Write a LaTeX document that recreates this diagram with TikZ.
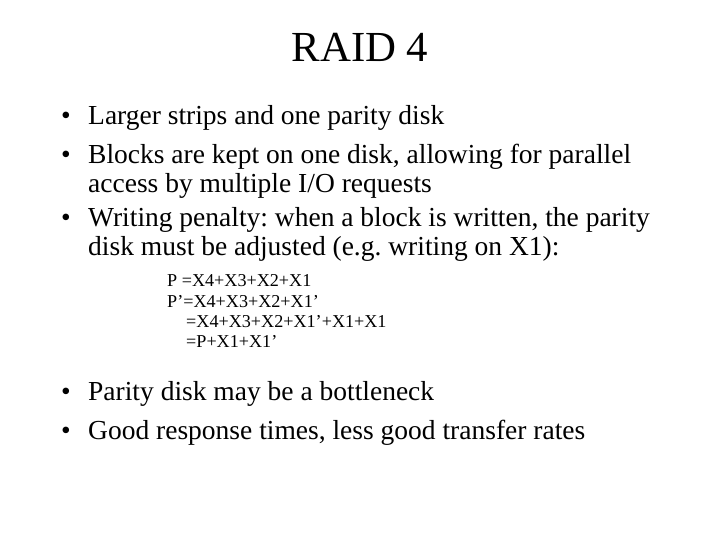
\documentclass[tikz,border=0pt]{standalone}
\usepackage{fontspec}
\setmainfont{Liberation Serif}
\frenchspacing
\begin{document}
\begin{tikzpicture}[x=1bp,y=-1bp,
  big/.style={anchor=base west,inner sep=0pt,font=\fontsize{27.6}{27.6}\selectfont},
  small/.style={anchor=base west,inner sep=0pt,font=\fontsize{18.2}{18.2}\selectfont},
  bul/.style={anchor=base west,inner sep=0pt,font=\fontsize{27.6}{27.6}\selectfont}]
\useasboundingbox[fill=white] (0,0) rectangle (720,540);
\node[inner sep=0pt,font=\fontsize{43}{43}\selectfont,anchor=base] (title) at (360,62) {RAID 4};
\node[bul] (b1) at (61,125) {•};
\node[big] (t1) at (88,125) {Larger strips and one parity disk};
\node[bul] (b2) at (61,164) {•};
\node[big] (t2) at (88,164) {Blocks are kept on one disk, allowing for parallel};
\node[big] (t3) at (88,193) {access by multiple I/O requests};
\node[bul] (b3) at (61,227) {•};
\node[big] (t4) at (88,227) {Writing penalty: when a block is written, the parity};
\node[big] (t5) at (88,256) {disk must be adjusted (e.g. writing on X1):};
\node[small] (s1) at (167,287) {P =X4+X3+X2+X1};
\node[small] (s2) at (167,307) {P’=X4+X3+X2+X1’};
\node[small] (s3) at (186,327) {=X4+X3+X2+X1’+X1+X1};
\node[small] (s4) at (186,347) {=P+X1+X1’};
\node[bul] (b4) at (61,400) {•};
\node[big] (t6) at (88,400) {Parity disk may be a bottleneck};
\node[bul] (b5) at (61,439) {•};
\node[big] (t7) at (88,439) {Good response times, less good transfer rates};
\end{tikzpicture}
\end{document}
